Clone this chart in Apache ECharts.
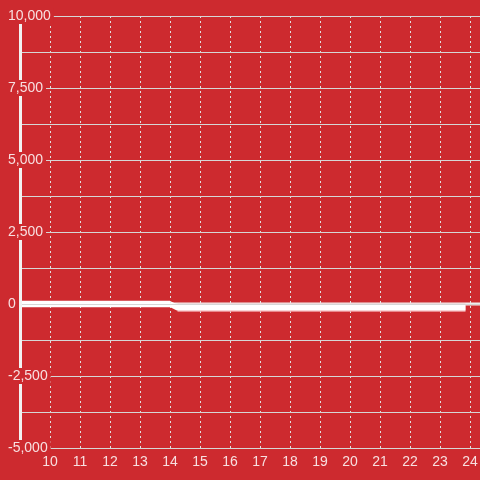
<!DOCTYPE html>
<html>
<head>
<meta charset="utf-8">
<script src="https://cdn.jsdelivr.net/npm/echarts@6/dist/echarts.min.js"></script>
<style>
  html, body { margin: 0; padding: 0; background: #cd2a2f; }
  #main { width: 480px; height: 480px; }
</style>
</head>
<body>
<div id="main"></div>
<script>
  // data
  var baseLine = [[9, 0], [14, 0]]
  var zeroTail = [[14, 0], [25, 0]]
  var dropLine = [[14, 0], [14.25, -130], [23.85, -130]]
  var dropFlat = [[14.25, -130], [23.85, -130]]

  var chart = echarts.init(document.getElementById('main'))
  var labelColor = 'rgba(255,255,255,0.85)'
  var bg = '#cd2a2f'

  chart.setOption({
    backgroundColor: bg,
    animation: false,
    grid: { left: 20, top: 16, width: 480, bottom: 32, containLabel: false, outerBoundsMode: 'none' },
    xAxis: {
      type: 'value',
      min: 9,
      max: 25,
      interval: 1,
      axisLine: { show: true, lineStyle: { color: '#d6d6d6', width: 1 } },
      axisTick: { show: false },
      axisLabel: {
        showMinLabel: false,
        showMaxLabel: false,
        color: labelColor,
        fontSize: 14,
        margin: 7
      },
      splitLine: {
        show: true,
        lineStyle: { color: '#e0e0e0', type: [2, 3], width: 1 }
      }
    },
    yAxis: {
      type: 'value',
      min: -5000,
      max: 10000,
      interval: 2500,
      z: 5,
      axisLine: { show: true, onZero: false, lineStyle: { color: '#f2f2f2', width: 3 } },
      axisTick: { show: false },
      axisLabel: {
        color: labelColor,
        fontSize: 14,
        align: 'left',
        margin: 12,
        backgroundColor: bg,
        padding: [1, 3, 1, 0]
      },
      splitLine: { show: true, lineStyle: { color: '#d6d6d6', width: 1 } },
      minorTick: { show: false, splitNumber: 2 },
      minorSplitLine: { show: true, lineStyle: { color: '#d6d6d6', width: 1 } }
    },
    series: [
      {
        name: 'tail',
        type: 'line',
        data: zeroTail,
        symbol: 'none',
        lineStyle: { color: '#eeeeee', width: 3 }
      },
      {
        name: 'dropEdge',
        type: 'line',
        data: dropFlat,
        symbol: 'none',
        lineStyle: { color: '#f1a9ac', width: 8, cap: 'butt' }
      },
      {
        name: 'drop',
        type: 'line',
        data: dropLine,
        symbol: 'none',
        lineStyle: { color: '#ffffff', width: 5.5, cap: 'butt' }
      },
      {
        name: 'base',
        type: 'line',
        data: baseLine,
        symbol: 'none',
        lineStyle: { color: '#ffffff', width: 6.5 }
      }
    ]
  })
</script>
</body>
</html>
